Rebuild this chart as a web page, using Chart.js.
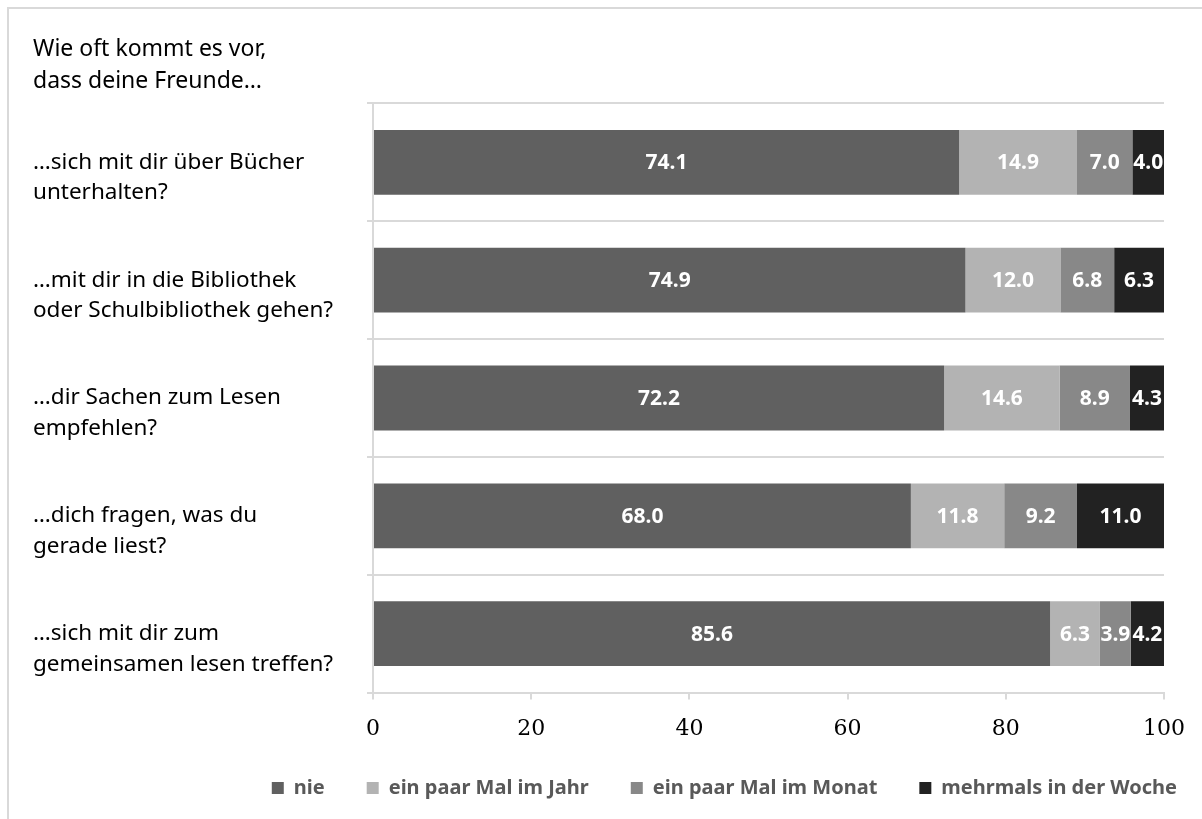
<!DOCTYPE html>
<html>
<head>
<meta charset="utf-8">
<script src="https://cdn.jsdelivr.net/npm/chart.js@4/dist/chart.umd.min.js"></script>
<style>
  html, body { margin: 0; padding: 0; background: #fff; }
  #wrap { width: 1202px; height: 819px; }
</style>
</head>
<body>
<div id="wrap"><canvas id="mainChart" width="1202" height="819"></canvas></div>
<script>
const titleLines = ["Wie oft kommt es vor,", "dass deine Freunde…"];
// leading "" keeps the first text line level with the bar, as in the original
const questions = [
    ["", "…sich mit dir über Bücher", "unterhalten?"],
    ["", "…mit dir in die Bibliothek", "oder Schulbibliothek gehen?"],
    ["", "…dir Sachen zum Lesen", "empfehlen?"],
    ["", "…dich fragen, was du", "gerade liest?"],
    ["", "…sich mit dir zum", "gemeinsamen lesen treffen?"]
];
const nie = [74.1, 74.9, 72.2, 68.0, 85.6];
const proJahr = [14.9, 12.0, 14.6, 11.8, 6.3];
const proMonat = [7.0, 6.8, 8.9, 9.2, 3.9];
const proWoche = [4.0, 6.3, 4.3, 11.0, 4.2];
const xTicks = [0, 20, 40, 60, 80, 100];

// light frame around the chart, like the original export
const framePlugin = {
    id: "frame",
    beforeDraw(chart) {
        const c = chart.ctx;
        c.save();
        c.strokeStyle = "#d9d9d9";
        c.lineWidth = 2;
        c.beginPath();
        c.moveTo(8, 819);
        c.lineTo(8, 8);
        c.lineTo(1202, 8);
        c.stroke();
        c.restore();
    }
};

// legend sits further right and higher than chart.js would put it
const legendShift = {
    id: "legendShift",
    afterLayout(chart) {
        const lg = chart.legend;
        lg.left += 55;
        lg.right += 55;
        lg.top -= 22;
        lg.bottom -= 22;
    }
};

// white numbers in the middle of every segment
const valuePlugin = {
    id: "values",
    afterDatasetsDraw(chart) {
        const c = chart.ctx;
        c.save();
        c.font = "bold 21px 'Noto Sans'";
        c.fillStyle = "#ffffff";
        c.textAlign = "center";
        c.textBaseline = "middle";
        chart.data.datasets.forEach((ds, i) => {
            chart.getDatasetMeta(i).data.forEach((bar, j) => {
                const p = bar.getProps(["x", "base", "y"], true);
                c.fillText(ds.data[j].toFixed(1), (p.x + p.base) / 2, p.y + 1);
            });
        });
        c.restore();
    }
};

let ctx = document.getElementById("mainChart").getContext("2d");
let mainChart = new Chart(ctx, {
    type: "bar",
    data: {
        labels: questions,
        datasets: [
            { label: "nie", data: nie, backgroundColor: "#606060" },
            { label: "ein paar Mal im Jahr", data: proJahr, backgroundColor: "#b3b3b3" },
            { label: "ein paar Mal im Monat", data: proMonat, backgroundColor: "#888888" },
            { label: "mehrmals in der Woche", data: proWoche, backgroundColor: "#222222" }
        ]
    },
    options: {
        indexAxis: "y",
        responsive: false,
        animation: false,
        barPercentage: 0.55,
        categoryPercentage: 1,
        layout: { padding: { left: 33, right: 38, top: 33, bottom: -11 } },
        scales: {
            x: {
                stacked: true,
                min: 0,
                max: 100,
                afterBuildTicks: (scale) => { scale.ticks = xTicks.map(v => ({ value: v })); },
                border: { display: true, color: "#d9d9d9", width: 2 },
                grid: { drawOnChartArea: false, drawTicks: true, tickLength: 7, color: "#d9d9d9", lineWidth: 2 },
                ticks: { color: "#000", font: { family: "'DejaVu Serif'", size: 22 }, padding: 16, maxRotation: 0 }
            },
            y: {
                stacked: true,
                afterFit: (scale) => { scale.width = 340; },
                border: { display: true, color: "#d9d9d9", width: 2 },
                grid: { offset: true, color: "#d9d9d9", lineWidth: 2, tickLength: 6 },
                ticks: {
                    color: "#000",
                    crossAlign: "far",
                    font: { family: "'Noto Sans'", size: 22.5, lineHeight: 1.36 }
                }
            }
        },
        plugins: {
            title: {
                display: true,
                text: titleLines,
                align: "start",
                color: "#000",
                font: { family: "'Noto Sans'", size: 23, weight: "normal", lineHeight: 1.4 },
                padding: { top: 0, bottom: 6 }
            },
            legend: {
                position: "bottom",
                align: "end",
                labels: {
                    boxWidth: 12,
                    boxHeight: 12,
                    padding: 42,
                    color: "#595959",
                    font: { family: "'Noto Sans'", size: 20, weight: "bold" }
                }
            },
            tooltip: { enabled: false }
        }
    },
    plugins: [framePlugin, legendShift, valuePlugin]
});
</script>
</body>
</html>
